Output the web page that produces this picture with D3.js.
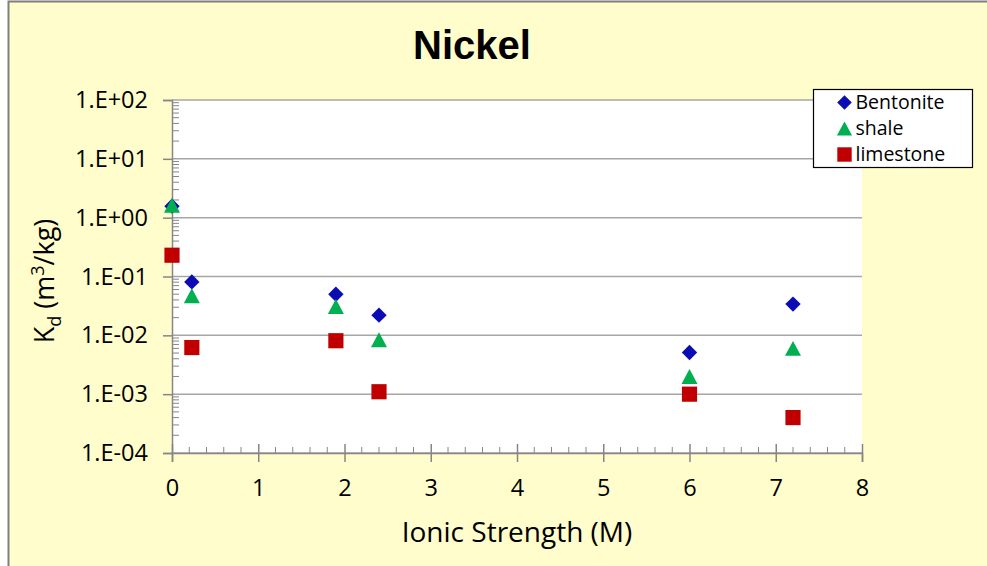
<!DOCTYPE html>
<html>
<head>
<meta charset="utf-8">
<script src="https://cdn.jsdelivr.net/npm/d3@7"></script>
<style>
  html, body { margin: 0; padding: 0; background: #ffffff; }
  svg { display: block; }
</style>
</head>
<body>
<div id="chart"></div>
<script>
// Data
const ionicStrength = [0, 0.23, 1.9, 2.4, 6, 7.2];
const bentonite = [1.57, 0.081, 0.050, 0.022, 0.0051, 0.034];
const shale = [1.62, 0.047, 0.031, 0.0084, 0.0020, 0.0060];
const limestone = [0.23, 0.0062, 0.0081, 0.0011, 0.0010, 0.0004];
const seriesNames = ['Bentonite', 'shale', 'limestone'];
const yTickLabels = ['1.E-04', '1.E-03', '1.E-02', '1.E-01', '1.E+00', '1.E+01', '1.E+02'];
const xTickValues = [0, 1, 2, 3, 4, 5, 6, 7, 8];

const width = 987, height = 566;
const margin = { left: 172, right: 125, top: 100, bottom: 113 };
const font = "'Open Sans', 'Liberation Sans', sans-serif";

const svg = d3.select('#chart')
  .append('svg')
  .attr('width', width)
  .attr('height', height);

// Chart background and border
svg.append('rect')
  .attr('x', 8).attr('y', 1)
  .attr('width', width - 8).attr('height', height - 1)
  .attr('fill', '#FFFDCB');
svg.append('path')
  .attr('d', `M8.5,${height} V1.5 H${width}`)
  .attr('fill', 'none')
  .attr('stroke', '#7f7f7f')
  .attr('stroke-width', 2);

const x = d3.scaleLinear()
  .domain([0, 8])
  .range([margin.left, width - margin.right]);

const y = d3.scaleLog()
  .domain([1e-4, 1e2])
  .range([height - margin.bottom, margin.top]);

// Plot area
svg.append('rect')
  .attr('x', x(0)).attr('y', y(1e2))
  .attr('width', x(8) - x(0))
  .attr('height', y(1e-4) - y(1e2))
  .attr('fill', '#ffffff');

const majorY = d3.range(-4, 3).map(p => Math.pow(10, p));

// Gridlines
svg.append('g')
  .selectAll('line')
  .data(majorY)
  .enter()
  .append('line')
  .attr('x1', x(0)).attr('x2', x(8))
  .attr('y1', d => y(d)).attr('y2', d => y(d))
  .attr('stroke', '#a6a6a6')
  .attr('stroke-width', 1.5);

// Minor ticks on y (inside)
const minorY = [];
majorY.slice(0, -1).forEach(p => {
  for (let k = 2; k <= 9; k++) minorY.push(p * k);
});
svg.append('g')
  .selectAll('line')
  .data(minorY)
  .enter()
  .append('line')
  .attr('x1', x(0)).attr('x2', x(0) + 7)
  .attr('y1', d => y(d)).attr('y2', d => y(d))
  .attr('stroke', '#868686')
  .attr('stroke-width', 1);

// Minor ticks on x (inside)
const minorX = d3.range(0, 40).map(i => i * 0.2).filter(v => Math.abs(v - Math.round(v)) > 1e-6);
svg.append('g')
  .selectAll('line')
  .data(minorX)
  .enter()
  .append('line')
  .attr('x1', d => x(d)).attr('x2', d => x(d))
  .attr('y1', y(1e-4) - 6).attr('y2', y(1e-4))
  .attr('stroke', '#868686')
  .attr('stroke-width', 1);

// Y axis
const yAxis = d3.axisLeft(y)
  .tickValues(majorY)
  .tickFormat((d, i) => yTickLabels[i])
  .tickSize(9)
  .tickPadding(15);
const gy = svg.append('g')
  .attr('transform', `translate(${x(0)},0)`)
  .call(yAxis);
gy.select('.domain').attr('stroke', '#868686').attr('stroke-width', 1.5);
gy.selectAll('.tick line').attr('stroke', '#868686').attr('stroke-width', 1.5);
gy.selectAll('.tick text')
  .attr('font-family', font)
  .attr('font-size', 23.5)
  .attr('fill', '#000');

// X axis
const xAxis = d3.axisBottom(x)
  .tickValues(xTickValues)
  .tickFormat(d3.format('d'))
  .tickSize(9)
  .tickPadding(17);
const gx = svg.append('g')
  .attr('transform', `translate(0,${y(1e-4)})`)
  .call(xAxis);
gx.select('.domain').attr('stroke', '#868686').attr('stroke-width', 1.5);
gx.selectAll('.tick line')
  .attr('y1', -9)
  .attr('stroke', '#868686').attr('stroke-width', 1.5);
gx.selectAll('.tick text')
  .attr('font-family', font)
  .attr('font-size', 23.5)
  .attr('fill', '#000');

// Title
svg.append('text')
  .attr('x', 472).attr('y', 59)
  .attr('text-anchor', 'middle')
  .attr('font-family', "'Liberation Sans', Arial, sans-serif")
  .attr('font-weight', 'bold')
  .attr('font-size', 40)
  .text('Nickel');

// Axis titles
svg.append('text')
  .attr('x', 517).attr('y', 542)
  .attr('text-anchor', 'middle')
  .attr('font-family', font)
  .attr('font-size', 28)
  .text('Ionic Strength (M)');

const yTitle = svg.append('text')
  .attr('transform', 'translate(54,281) rotate(-90)')
  .attr('text-anchor', 'middle')
  .attr('font-family', font)
  .attr('font-size', 27);
yTitle.append('tspan').text('K');
yTitle.append('tspan').attr('font-size', 18).attr('dy', 7).text('d');
yTitle.append('tspan').attr('dy', -7).text(' (m');
yTitle.append('tspan').attr('font-size', 18).attr('dy', -10).text('3');
yTitle.append('tspan').attr('dy', 10).text('/kg)');

// Marker shapes (Excel style: diamond is a square turned 45deg, triangle box-centred)
const diamond = {
  draw(ctx, size) {
    const r = Math.sqrt(size / 2);
    ctx.moveTo(0, -r);
    ctx.lineTo(r, 0);
    ctx.lineTo(0, r);
    ctx.lineTo(-r, 0);
    ctx.closePath();
  }
};
const triangle = {
  draw(ctx, size) {
    const h = Math.sqrt(size * 2 / 1.07);
    const w = h * 1.07;
    ctx.moveTo(0, -h / 2);
    ctx.lineTo(w / 2, h / 2);
    ctx.lineTo(-w / 2, h / 2);
    ctx.closePath();
  }
};
const series = [
  { name: seriesNames[0], values: bentonite, color: '#0c0cb4', symbol: diamond, size: 118 },
  { name: seriesNames[1], values: shale, color: '#00b050', symbol: triangle, size: 120 },
  { name: seriesNames[2], values: limestone, color: '#c00000', symbol: d3.symbolSquare, size: 230 }
];

// triangle drawn over diamond at x=0 as in the reference
const drawOrder = [2, 0, 1];
drawOrder.forEach(i => {
  const s = series[i];
  svg.append('g')
    .selectAll('path')
    .data(ionicStrength.map((xv, j) => ({ x: xv, y: s.values[j] })))
    .enter()
    .append('path')
    .attr('transform', d => `translate(${x(d.x)},${y(d.y)})`)
    .attr('d', d3.symbol().type(s.symbol).size(s.size))
    .attr('fill', s.color);
});

// Legend
const legend = svg.append('g').attr('transform', 'translate(813.5,89.5)');
legend.append('rect')
  .attr('width', 159).attr('height', 78)
  .attr('fill', '#ffffff')
  .attr('stroke', '#000')
  .attr('stroke-width', 1.2);
series.forEach((s, i) => {
  const row = legend.append('g').attr('transform', `translate(0,${13 + i * 26})`);
  row.append('path')
    .attr('transform', 'translate(31,0)')
    .attr('d', d3.symbol().type(s.symbol).size(s.size * 0.9))
    .attr('fill', s.color);
  row.append('text')
    .attr('x', 42).attr('y', 0)
    .attr('dy', '0.35em')
    .attr('font-family', font)
    .attr('font-size', 19.5)
    .text(s.name);
});
</script>
</body>
</html>
